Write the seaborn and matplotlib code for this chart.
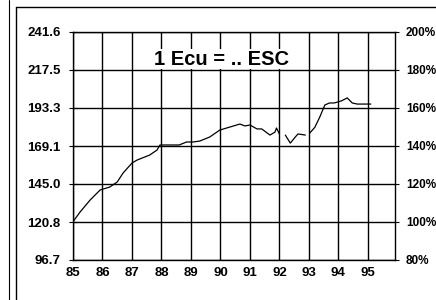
import numpy as np
import pandas as pd
import matplotlib
matplotlib.use("Agg")
import matplotlib.pyplot as plt
from matplotlib.lines import Line2D
import seaborn as sns

sns.set_theme(style="white")
plt.rcParams['font.family'] = ['Liberation Sans', 'DejaVu Sans']

# ESC per Ecu (NaN = break in the line)
years = [85.0, 85.24, 85.58, 85.92, 86.25, 86.5, 86.7, 87.0, 87.17, 87.6, 87.85,
         87.95, 88.3, 88.6, 88.85, 89.07, 89.3, 89.64, 89.98, 90.32, 90.66, 90.83,
         91.0, 91.24, 91.4, 91.68, 91.85, 91.9, 92.0, 92.1, 92.2, 92.37, 92.54,
         92.63, 92.88, 92.95, 93.03, 93.2, 93.37, 93.54, 93.7, 93.86, 94.1, 94.3,
         94.47, 94.64, 94.95, 95.1]
esc = [121.0, 127.2, 134.8, 141.2, 143.1, 146.3, 152.0, 158.3, 160.2, 163.4, 166.6,
       169.8, 169.8, 169.8, 171.7, 171.7, 172.3, 174.9, 179.3, 181.2, 183.1, 181.9,
       182.5, 180.0, 180.0, 176.1, 178.0, 180.6, 176.8, np.nan, 176.1, 171.0, 174.9,
       176.8, 176.1, np.nan, 177.4, 181.0, 187.6, 195.2, 196.5, 196.5, 197.8, 199.7,
       196.5, 195.8, 195.8, 195.8]

y_ticks = [96.7, 120.8, 145.0, 169.1, 193.3, 217.5, 241.6]
pct_ticks = [80, 100, 120, 140, 160, 180, 200]
x_ticks = list(range(85, 96))
title = "1 Ecu = .. ESC"

df = pd.DataFrame({"year": years, "esc": esc})
# split into segments at the breaks so seaborn does not join across them
df["seg"] = df["esc"].isna().cumsum()
df = df.dropna()

fig = plt.figure(figsize=(4.36, 3.0), dpi=100)
ax = fig.add_axes([73 / 436, 1 - 260 / 300, (395 - 73) / 436, (260 - 32) / 300])

sns.lineplot(data=df, x="year", y="esc", units="seg", estimator=None,
             color="black", lw=0.9, ax=ax)

ax.set_xlim(85, 95.92)
ax.set_ylim(96.7, 241.6)
ax.set_xlabel("")
ax.set_ylabel("")
ax.set_xticks(x_ticks)
ax.set_xticklabels([str(x) for x in x_ticks])
ax.set_yticks(y_ticks)
ax.set_yticklabels([f"{v:.1f}" for v in y_ticks])
ax.grid(True, color="black", lw=1.0)
ax.set_axisbelow(True)
for s in ax.spines.values():
    s.set_color("black")
    s.set_linewidth(1.0)
ax.tick_params(axis="y", direction="inout", length=6, width=0.8, color="black",
               pad=6, labelsize=9.5, labelcolor="black", left=True)
ax.tick_params(axis="x", length=0, pad=5, labelsize=9.5, labelcolor="black")
for lab in ax.get_xticklabels() + ax.get_yticklabels():
    lab.set_fontweight("bold")

ax2 = ax.twinx()
ax2.set_ylim(80, 200)
ax2.set_yticks(pct_ticks)
ax2.set_yticklabels([f"{p}%" for p in pct_ticks])
ax2.tick_params(axis="y", length=3, width=0.8, color="black", pad=5,
                labelsize=8.5, labelcolor="black", right=True)
for lab in ax2.get_yticklabels():
    lab.set_fontweight("bold")
for s in ax2.spines.values():
    s.set_visible(False)

ax2.text(0.46, 0.88, title, transform=ax.transAxes, ha="center", va="center",
         fontsize=14.5, fontweight="bold", color="black", zorder=5,
         bbox=dict(facecolor="white", edgecolor="none", pad=0.5))

# scanned page frame
fig.add_artist(Line2D([16 / 436, 1], [1 - 7 / 300, 1 - 7 / 300], color="black", lw=1.0))
fig.add_artist(Line2D([16 / 436, 16 / 436], [0, 1 - 7 / 300], color="black", lw=1.0))
fig.add_artist(Line2D([9 / 436, 9 / 436], [0, 1], color="black", lw=0.8))

fig.savefig("out.png", dpi=100)
